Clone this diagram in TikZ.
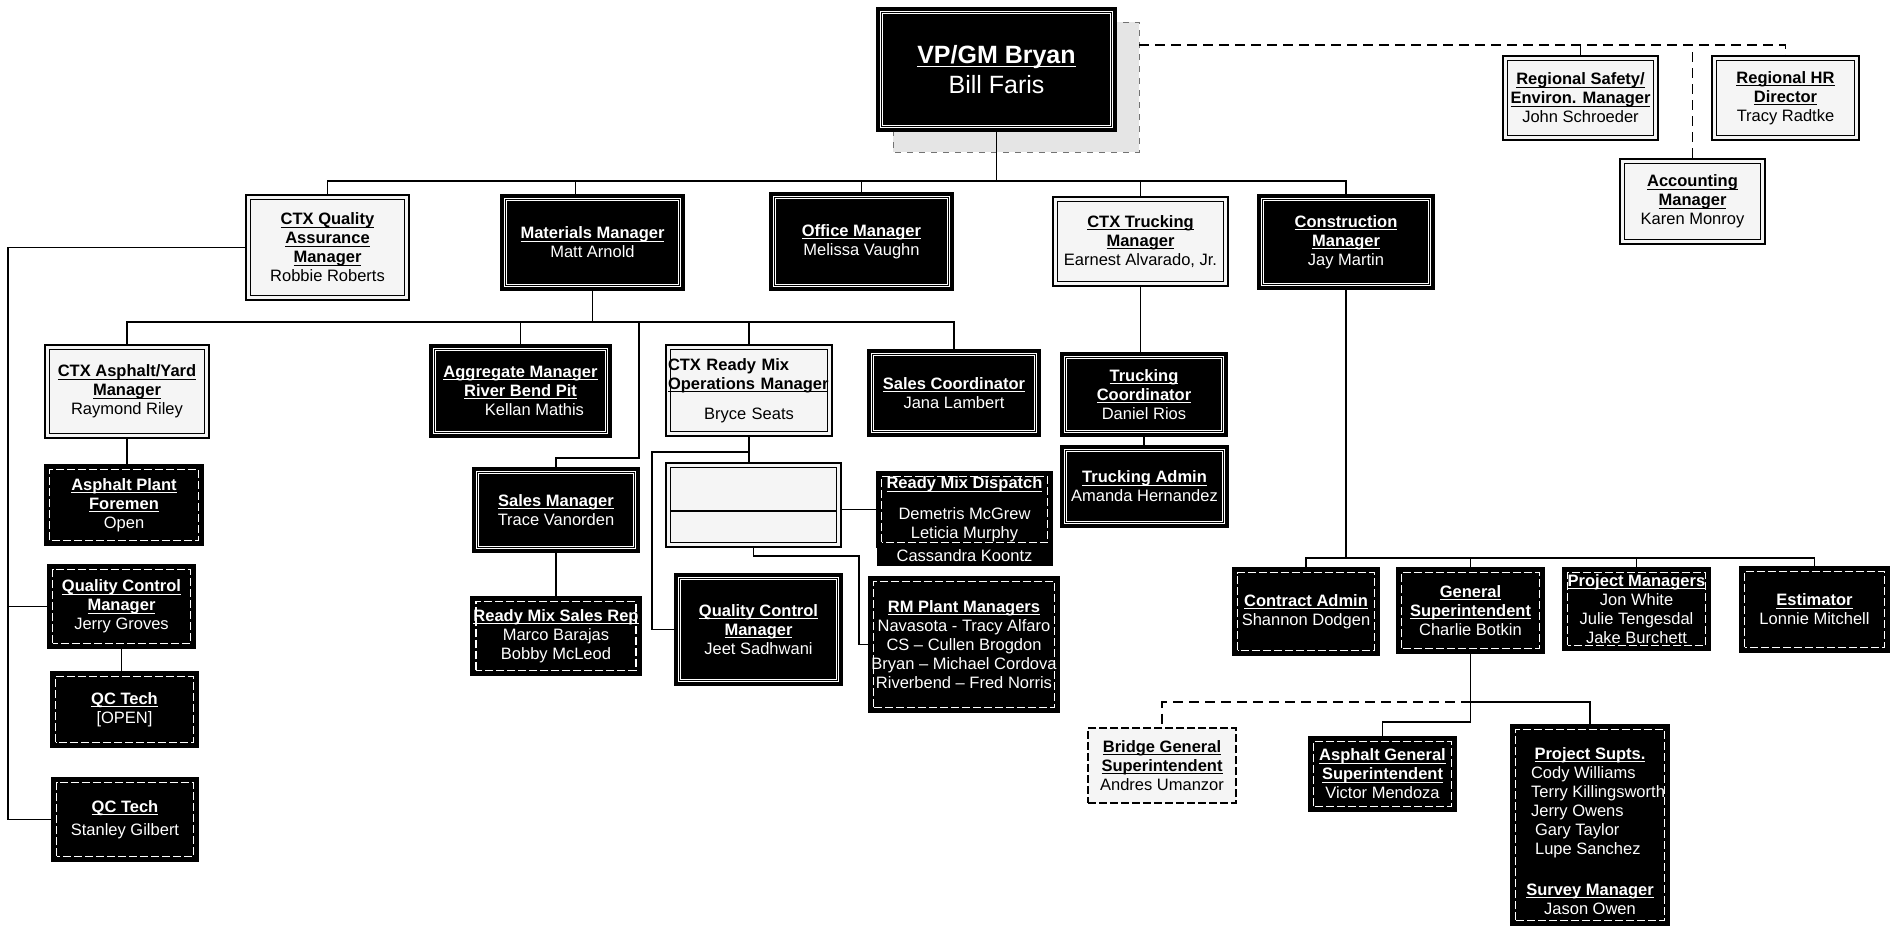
\documentclass[tikz,border=0pt]{standalone}
\usepackage{fontspec}
\setmainfont{Liberation Sans}
\usetikzlibrary{calc}
\newcommand\fs{\fontsize{8.25}{9.5}\selectfont}
\newsavebox\hdbox
\newcommand\hd[1]{\sbox\hdbox{\textbf{#1}}\usebox\hdbox\llap{\rule[-0.16em]{\wd\hdbox}{0.055em}}}
\tikzset{
  frame/.style={path picture={\draw[#1] ([shift={(2.3pt,2.3pt)}]path picture bounding box.south west) rectangle ([shift={(-2.3pt,-2.3pt)}]path picture bounding box.north east);}},
  sz/.style 2 args={minimum width=#1pt, minimum height=#2pt},
  box/.style={rectangle, inner sep=1pt, align=center, font=\fs, line width=1.2pt},
  light/.style={box, fill=black!4, draw=black, text=black, frame={solid, black, line width=0.5pt}},
  lightd/.style={box, fill=black!4, draw=black, text=black, line width=0.8pt, dash pattern=on 4pt off 1.5pt},
  dark/.style={box, fill=black, draw=black, text=white, frame={solid, white, line width=0.45pt, double=black, double distance=0.6pt}},
  darkd/.style={box, fill=black, draw=black, text=white, frame={white, line width=0.6pt, dash pattern=on 4pt off 1.5pt}},
  darkplain/.style={box, fill=black, draw=black, text=white, line width=0.5pt},
  conn/.style={line width=0.9pt, black},
  dconn/.style={conn, dash pattern=on 5pt off 3pt},
}
\begin{document}
\begin{tikzpicture}[x=0.5pt,y=-0.5pt]
\useasboundingbox (0,0) rectangle (1892,928);
\fill[white] (0,0) rectangle (1892,928);

% shadow behind the top box
\fill[black!10] (893,22) rectangle (1139,152);
\draw[black!55, dashed, line width=0.5pt] (893,22) rectangle (1139,152);
\coordinate (shE) at (1139,45);

% top
\node[dark, sz={119.5}{61.5}, font=\fontsize{12.5}{15}\selectfont] (vp) at (996.5,69.5) {\hd{VP/GM Bryan}\\Bill Faris};
\node[light, sz={77.5}{42}] (rs) at (1580.5,98) {\hd{Regional Safety/}\\\hd{Environ. Manager}\\John Schroeder};
\node[light, sz={73.5}{42}] (rhr) at (1785.5,98) {\hd{Regional HR}\\\hd{Director}\\Tracy Radtke};
\node[light, sz={72.5}{42.5}] (acc) at (1692.5,201.5) {\hd{Accounting}\\\hd{Manager}\\Karen Monroy};

% level 2
\node[light, sz={81.5}{52.5}] (qa) at (327.5,247.5) {\hd{CTX Quality}\\\hd{Assurance}\\\hd{Manager}\\Robbie Roberts};
\node[dark, sz={91.5}{47.5}] (mat) at (592.5,242.5) {\hd{Materials Manager}\\Matt Arnold};
\node[dark, sz={91.5}{48.5}] (off) at (861.5,241.5) {\hd{Office Manager}\\Melissa Vaughn};
\node[light, sz={87.5}{44.5}] (trk) at (1140.5,241.5) {\hd{CTX Trucking}\\\hd{Manager}\\Earnest Alvarado, Jr.};
\node[dark, sz={88}{47}] (con) at (1346,242) {\hd{Construction}\\\hd{Manager}\\Jay Martin};

% materials subtree
\node[light, sz={82}{46.5}] (asy) at (127,391.5) {\hd{CTX Asphalt/Yard}\\\hd{Manager}\\Raymond Riley};
\node[dark, sz={90.5}{46}] (agg) at (520.5,391) {\hd{Aggregate Manager}\\\hd{River Bend Pit}\\\hspace*{14pt}Kellan Mathis};
\node[light, sz={83}{45.5}, text width=81pt, align=left] (rmo) at (749,390.5) {\textbf{CTX Ready Mix}\\\hd{Operations Manager}\\[5.5pt]\hspace*{\fill}Bryce Seats\hspace*{\fill}};
\node[dark, sz={86}{43}] (sco) at (954,393) {\hd{Sales Coordinator}\\Jana Lambert};
\node[dark, sz={83}{42}] (sm) at (556,510) {\hd{Sales Manager}\\Trace Vanorden};
\node[darkd, sz={83}{39}] (rsr) at (556,636) {\hd{Ready Mix Sales Rep}\\Marco Barajas\\Bobby McLeod};

% asphalt / QC column
\node[darkd, sz={79}{40}] (apf) at (124,505) {\hd{Asphalt Plant}\\\hd{Foremen}\\Open};
\node[darkd, sz={73.5}{41.5}] (qcm1) at (121.5,606.5) {\hd{Quality Control}\\\hd{Manager}\\Jerry Groves};
\node[darkd, sz={73.5}{37.5}] (qct1) at (124.5,709.5) {\hd{QC Tech}\\{[OPEN]}};
\node[darkd, sz={73}{41.5}] (qct2) at (125,819.5) {\hd{QC Tech}\\[2pt]Stanley Gilbert};

% ready mix
\node[light, sz={87.5}{42}] (rmb) at (753.5,505) {};
\coordinate (rdiv) at (0,511);
\draw[line width=1pt] ($(rmb.west |- rdiv)+(3pt,0)$) -- ($(rmb.east |- rdiv)+(-3pt,0)$);
\node[darkd, sz={87.5}{37.5}] (rmd) at (964.5,509.5) {\hd{Ready Mix Dispatch}\\[6pt]Demetris McGrew\\Leticia Murphy};
\node[darkplain, sz={87.5}{9}, inner sep=0pt] (ck) at (964.5,556) {Cassandra Koontz};
\node[dark, sz={83.5}{55.5}] (qcm2) at (758.5,629.5) {\hd{Quality Control}\\\hd{Manager}\\Jeet Sadhwani};
\node[darkd, sz={95}{67.5}] (rmp) at (964,644.5) {\hd{RM Plant Managers}\\Navasota - Tracy Alfaro\\CS -- Cullen Brogdon\\Bryan -- Michael Cordova\\Riverbend -- Fred Norris};

% trucking
\node[dark, sz={83}{41.5}] (tc) at (1144,394.5) {\hd{Trucking}\\\hd{Coordinator}\\Daniel Rios};
\node[dark, sz={83.5}{40.5}] (ta) at (1144.5,486.5) {\hd{Trucking Admin}\\Amanda Hernandez};

% construction
\node[darkd, sz={73}{43.5}] (ca) at (1306,611.5) {\hd{Contract Admin}\\Shannon Dodgen};
\node[darkd, sz={73.5}{42.5}] (gs) at (1470.5,610.5) {\hd{General}\\\hd{Superintendent}\\Charlie Botkin};
\node[darkd, sz={73.5}{41}] (pm) at (1636.5,609) {\hd{Project Managers}\\Jon White\\Julie Tengesdal\\Jake Burchett};
\node[darkd, sz={74.5}{42.5}] (est) at (1814.5,609.5) {\hd{Estimator}\\Lonnie Mitchell};
\node[lightd, sz={74}{37.5}] (bgs) at (1162,765.5) {\hd{Bridge General}\\\hd{Superintendent}\\Andres Umanzor};
\node[darkd, sz={73.5}{37}] (ags) at (1382.5,774) {\hd{Asphalt General}\\\hd{Superintendent}\\Victor Mendoza};
\node[darkd, sz={79}{100}] (ps) at (1590,825) {\rule{0pt}{12pt}\hd{Project Supts.}\\
\begin{tabular}{@{\hspace{8pt}}l@{}}
Cody Williams\\
Terry Killingsworth\\
Jerry Owens\\
\hspace*{2pt}Gary Taylor\\
\hspace*{2pt}Lupe Sanchez
\end{tabular}\\[11pt]
\hd{Survey Manager}\\
Jason Owen};

% ---- connectors ----
\coordinate (b2) at (997,181);
\draw[conn] (vp.south) -- (vp.south |- b2);
\draw[conn] (qa.north) |- (b2) -| (con.north);
\draw[conn] ([xshift=-8.5pt]mat.north) -- ([xshift=-8.5pt]mat.north |- b2);
\draw[conn] (off.north) -- (off.north |- b2);
\draw[conn] (trk.north) -- (trk.north |- b2);

\draw[dconn] (shE) -| (rhr.north);
\draw[dconn] (rs.north) -- (rs.north |- shE);
\draw[dconn] (acc.north) -- (acc.north |- shE);

\coordinate (rail) at (8,500);
\draw[conn] (qa.west) -- (qa.west -| rail) -- (qct2.west -| rail) -- (qct2.west);
\draw[conn] (qcm1.west -| rail) -- (qcm1.west);

\coordinate (b3) at (593,322);
\draw[conn] (mat.south) -- (mat.south |- b3);
\draw[conn] (asy.north) |- (b3) -| (sco.north);
\draw[conn] (agg.north) -- (agg.north |- b3);
\draw[conn] (rmo.north) -- (rmo.north |- b3);
\coordinate (smk) at (639,458);
\draw[conn] (smk |- b3) -- (smk) -| (sm.north);
\draw[conn] (sm.south) -- (rsr.north);

\draw[conn] (asy.south) -- (asy.south |- apf.north);
\draw[conn] (qcm1.south) -- (qcm1.south |- qct1.north);

\draw[conn] (rmo.south) -- (rmo.south |- rmb.north);
\coordinate (qk) at (652,452);
\draw[conn] (rmo.south |- qk) -- (qk) |- (qcm2.west);
\draw[conn] (rmb.east |- rmd.west) -- (rmd.west);
\coordinate (rk) at (859,556);
\draw[conn] (rmb.south) |- (rk) |- (rmp.west);

\draw[conn] (trk.south) -- (trk.south |- tc.north);
\draw[conn] (tc.south) -- (tc.south |- ta.north);

\coordinate (b4) at (1346,558);
\draw[conn] (con.south) -- (con.south |- b4);
\draw[conn] (ca.north) |- (b4) -| (est.north);
\draw[conn] (gs.north) -- (gs.north |- b4);
\draw[conn] (pm.north) -- (pm.north |- b4);

\coordinate (g1) at (1470.5,702);
\coordinate (g2) at (1470.5,722);
\draw[conn] (gs.south) -- (g2) -| (ags.north);
\draw[conn] (g1) -| (ps.north);
\draw[dconn] (g1) -| (bgs.north);
\end{tikzpicture}
\end{document}
